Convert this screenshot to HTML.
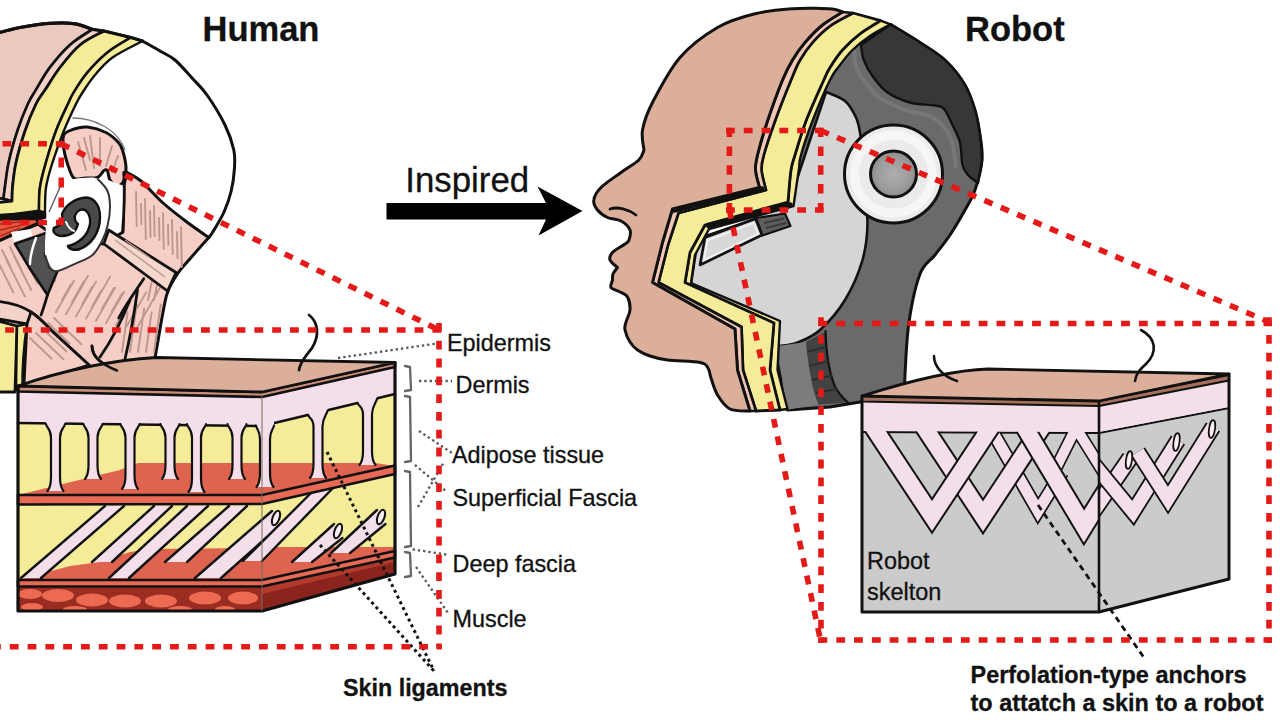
<!DOCTYPE html>
<html lang="en"><head><meta charset="utf-8"><title>Human skin ligaments inspired robot skin anchors</title>
<style>
html,body{margin:0;padding:0;background:#fff;}
body{width:1280px;height:720px;overflow:hidden;position:relative;font-family:"Liberation Sans",sans-serif;}
svg{position:absolute;left:0;top:0;display:block;}
text{font-family:"Liberation Sans",sans-serif;fill:#111;stroke:#111;stroke-width:0.3px;}
.b{font-weight:bold;}
.k{stroke:#111;stroke-linejoin:round;stroke-linecap:round;}
.red{fill:none;stroke:#e31a18;stroke-width:5.6;stroke-dasharray:8.8 9;}
.dot{fill:none;stroke:#555;stroke-width:2.3;stroke-dasharray:2.3 3;}
.bdot{fill:none;stroke:#111;stroke-width:3;stroke-dasharray:3 3.4;}
.br{fill:none;stroke:#666;stroke-width:2.3;stroke-linejoin:round;stroke-linecap:round;}
</style></head><body>
<svg width="1280" height="720" viewBox="0 0 1280 720">
<rect width="1280" height="720" fill="#fff"/>

<g id="human-head">
<path class="k" fill="none" stroke-width="3" d="M142.5,41 C145.4,42.7 154.6,47.8 160,51 C165.4,54.2 169.7,55.5 175,60 C180.3,64.5 186.7,72.2 192,78 C197.3,83.8 201.5,87.2 207,95 C212.5,102.8 220.5,115.8 225,125 C229.5,134.2 232.2,142.7 233.8,150 C235.3,157.3 234.8,161.9 234.4,168.8 C234,175.6 233,183.7 231.2,191 C229.5,198.3 226.9,205.6 223.8,212.5 C220.6,219.4 215,228.3 212.5,232.5 C210,236.7 209.4,236.7 208.8,237.5"/>
<path class="k" fill="#ecc9bf" stroke-width="3" d="M-6,34 C-1.7,32.9 10.7,29.3 20,27.5 C29.3,25.7 40.8,23.9 50,23.3 C59.2,22.7 67.9,22.7 75,23.8 C82.1,24.8 89.6,28.5 92.5,29.4  C88.8,32 77.1,38.6 70,45 C62.9,51.4 55.7,60 50,67.5 C44.3,75 39.7,83.9 36,90 C32.3,96.1 31.1,97.2 28,104 C24.9,110.8 20.7,121.2 17.5,131 C14.3,140.8 10.8,153.1 8.8,162.5 C6.7,171.9 5.9,181.4 5,187.5 C4.1,193.6 3.8,197.1 3.5,199 L-6,198 Z"/>
<path class="k" fill="#f3d2c8" stroke-width="2.4" d="M92.5,29.4 C88.8,32 77.1,38.6 70,45 C62.9,51.4 55.7,60 50,67.5 C44.3,75 39.7,83.9 36,90 C32.3,96.1 31.1,97.2 28,104 C24.9,110.8 20.7,121.2 17.5,131 C14.3,140.8 10.8,153.1 8.8,162.5 C6.7,171.9 5.9,181.4 5,187.5 C4.1,193.6 3.8,197.1 3.5,199 L12,201 C12.1,198.8 11.8,193.9 12.5,187.5 C13.2,181.1 13.9,171.9 16,162.5 C18.1,153.1 21.7,140.8 25,131 C28.3,121.2 32.7,110.8 36,104 C39.3,97.2 41,96.1 45,90 C49,83.9 54.2,75 60,67.5 C65.8,60 72.7,51.1 80,45 C87.3,38.9 100,33.3 104,31 Z"/>
<path class="k" fill="#f3d2c8" stroke-width="2.4" d="M-6,198 L3.5,199 L12,201 L-6,203 Z"/>
<path class="k" fill="#f4ec99" stroke-width="2.8" d="M104,31 C100,33.3 87.3,38.9 80,45 C72.7,51.1 65.8,60 60,67.5 C54.2,75 49,83.9 45,90 C41,96.1 39.3,97.2 36,104 C32.7,110.8 28.3,121.2 25,131 C21.7,140.8 18.1,153.1 16,162.5 C13.9,171.9 13.2,181.1 12.5,187.5 C11.8,193.9 12.1,198.8 12,201 L-6,203 L-6,217 L39,211  C39.2,207.1 38.8,195.6 40,187.5 C41.2,179.4 43.3,171.9 46,162.5 C48.7,153.1 52.3,140.8 56,131 C59.7,121.2 65,110.4 68,104 C71,97.6 70.5,97.8 73.8,92.5 C77,87.2 81.9,79.2 87.5,72.5 C93.1,65.8 100.2,58.3 107.5,52.5 C114.8,46.7 127.1,40 131,37.5 Z"/>
<path class="k" fill="#f4ec99" stroke-width="2.4" d="M131,37.5 C127.1,40 114.8,46.7 107.5,52.5 C100.2,58.3 93.1,65.8 87.5,72.5 C81.9,79.2 77,87.2 73.8,92.5 C70.5,97.8 71,97.6 68,104 C65,110.4 59.7,121.2 56,131 C52.3,140.8 48.7,153.1 46,162.5 C43.3,171.9 41.2,179.4 40,187.5 C38.8,195.6 39.2,207.1 39,211 L45,212.5 C45.2,208.3 44.8,195.8 46,187.5 C47.2,179.2 49.5,171.9 52.5,162.5 C55.5,153.1 59.8,140.8 63.8,131 C67.7,121.2 72.9,110.4 76,104 C79.1,97.6 79.3,97.3 82.5,92.5 C85.7,87.7 90,80.8 95,75 C100,69.2 104.6,63.2 112.5,57.5 C120.4,51.8 137.5,43.8 142.5,41 Z"/>
<path class="k" fill="none" stroke-width="3.2" d="M-6,34 C-1.7,32.9 10.7,29.3 20,27.5 C29.3,25.7 40.8,23.9 50,23.3 C59.2,22.7 67.9,22.7 75,23.8 C82.1,24.8 89.6,28.5 92.5,29.4 L104,31 L131,37.5 L142.5,41"/>
<path fill="#111" d="M-6,214 L46,211 L48,218 L38,221 L-6,222 Z"/>
<path class="k" fill="#e85a40" stroke-width="2" d="M-6,220 L36,219 L38,223 C25,228 10,235 -6,243 Z"/>
<path fill="none" stroke="#a8281a" stroke-width="1.6" d="M0,224 L30,221 M0,230 L26,224 M0,236 L20,228"/>
<path class="k" fill="#f7cec6" stroke-width="3" d="M127,172.5 C129.3,173.9 135.1,176 141,181 C146.9,186 154.8,195.6 162.5,202.5 C170.2,209.4 179.8,216.7 187.5,222.5 C195.2,228.3 205.2,235 208.8,237.5  C205.6,241 195.2,252.7 190,258.8 C184.8,264.8 181.2,268.1 177.5,273.8 C173.8,279.4 170,285.6 167.5,292.5 C165,299.4 163.9,307.9 162.5,315 C161.1,322.1 160.2,327.8 159,335 C157.8,342.2 155.7,354.2 155,358 L100,375 L24,392 L22,330 L-6,318 L-6,243 C10,236 25,229 38,224 L60,240 L104,244 L123,232 L124,185 Z"/>
<path class="k" fill="#f3d2c8" stroke-width="2.8" d="M-6,301 C10,302 22,306 31,312 C40,318 46,325 51.5,330.6 L89,365 L40,380 L24,385 L27,324 L-6,318 Z"/>
<path class="k" fill="#f7cec6" stroke-width="2.8" d="M31,312 C40,318 46,325 51.5,330.6 L89,365 L24,385 L27,324 Z"/>
<path fill="none" stroke="#bb978d" stroke-width="1.9" stroke-linecap="round" d="M136,192 L136.7,226 M145,199 L145.8,239 M154,206 L154.6,236 M163,213 L163.7,249 M172,220 L172.7,254 M181,227 L181.8,267 M141,204 L141.4,224 M150,211 L150.5,237 M159,218 L159.4,240 M168,225 L168.4,245 M177,232 L177.5,258 M56,312 L74,280.7 M66,314.2 L88,275.9 M76,316.4 L96,281.6 M86,318.6 L110,276.8 M96,320.8 L115,287.7 M106,323 L124,291.7 M116,325.2 L138,286.9 M126,327.4 L146,292.6 M136,329.6 L160,287.8 M62,300 L71,284.3 M72,302.2 L84,281.3 M82,304.4 L92,287 M92,306.6 L101,290.9 M102,308.8 L114,287.9 M112,311 L122,293.6 M122,313.2 L131,297.5 M-2,262 L13.3,292.3 M6,259 L24.9,296.4 M14,256 L31.1,289.8 M22,253 L37.3,283.3 M30,250 L48.9,287.4 M38,247 L55.1,280.8 M2,250 L10.1,266 M10,247 L20.8,268.4 M18,244 L26.1,260 M26,241 L36.8,262.4 M34,238 L42.1,254 M30,338 L51.6,358.7 M36,333 L63.4,359.2 M42,328 L66.5,351.5 M48,323 L69.6,343.7 M54,318 L81.4,344.2 M122,352 L127.6,312.4 M130,352 L136.7,304.5 M138,352 L144.2,308.4 M146,352 L151.6,312.4 M154,352 L160.7,304.5 M148,300 L152.4,278.4 M154,300 L157.6,282.4"/>
<path class="k" fill="#f7cec6" stroke-width="3" d="M63.8,135 C65.4,131.5 70,130.3 74,129 C78,127.7 82.2,126.4 87.5,127 C92.8,127.6 100.9,130 106,132.5 C111.1,135 115.2,139.1 118,142 C120.8,144.9 121.2,145.8 122.5,150 C123.8,154.2 125.8,162.5 126,167.5 C126.2,172.5 125.4,176.9 124,180 C122.6,183.1 119.8,186 117.5,186 C115.2,186 111.7,182.5 110,180 C108.3,177.5 108.5,172.6 107.5,171 C106.5,169.4 105.7,169.5 104,170.6 C102.3,171.7 100.5,176.3 97.5,177.5 C94.5,178.7 89.8,177.8 86,178 C82.2,178.2 77.7,179.9 75,178.8 C72.3,177.6 71.8,175.8 70,171 C68.2,166.2 65,156 64,150 C63,144 62.1,138.5 63.8,135 Z"/>
<path fill="none" stroke="#bb978d" stroke-width="1.9" stroke-linecap="round" d="M78,142 L86,170 M90,136 L94,168 M100,138 L100,166 M112,146 L106,166 M118,156 L112,172 M84,138 L90,160"/>
<path fill="none" stroke="#777" stroke-width="1.3" d="M72.5,118 C95,118 118,130 125,150"/>
<path class="k" fill="#515151" stroke-width="2.6" d="M15,243.75 L47.5,232.5 L45,255 L50,267.5 L57.5,271 L47.5,295 L30,268.75 Z"/>
<path fill="none" stroke="#fff" stroke-width="2.4" stroke-linecap="round" d="M36,238 C33,246 30,256 30,264"/>
<path fill="#fff" d="M11,232 L31,229 L32,236 L14,242 Z"/>
<path fill="#fff" d="M50,182.5 C51.8,180.2 55.1,181.4 58,181 C60.9,180.6 63.5,180.5 67.5,180 C71.5,179.5 77,178.2 82,178 C87,177.8 93.2,176.6 97.5,178.8 C101.8,180.9 105.4,186.2 107.5,191 C109.6,195.8 110,201.7 110,207.5 C110,213.3 108.8,220.6 107.5,226 C106.2,231.4 105,235.2 102.5,240 C100,244.8 97.1,251 92.5,255 C87.9,259 80.8,261.1 75,263.8 C69.2,266.4 61.7,270.4 57.5,271 C53.3,271.6 52.1,270.2 50,267.5 C47.9,264.8 45.7,262.1 45,255 C44.3,247.9 45.6,235 46,225 C46.4,215 46.8,202.1 47.5,195 C48.2,187.9 48.2,184.8 50,182.5 Z"/>
<path fill="#fff" d="M108,180 L124,186 L123,231 L109,229 Z"/>
<path fill="none" stroke="#333" stroke-width="2" d="M97.5,178.8 C99.2,180.8 105.4,186.2 107.5,191 C109.6,195.8 110,201.7 110,207.5 C110,213.3 108.8,220.6 107.5,226 C106.2,231.4 105,235.2 102.5,240 C100,244.8 97.1,251 92.5,255 C87.9,259 80.8,261.1 75,263.8 C69.2,266.4 61.7,270.4 57.5,271 C53.3,271.6 52.1,270.2 50,267.5 C47.9,264.8 45.8,257.1 45,255"/>
<path fill="none" stroke="#555" stroke-width="1.3" d="M61,185 L49,212"/>
<path class="k" fill="none" stroke-width="2.8" d="M123.75,172.5 C125,195 124,215 122.5,232.5"/>
<path class="k" fill="#4a4a4a" stroke-width="2.4" d="M62,214 C66,204 76,198 86,197.5 C95,198 100,206 100,217 C100,232 92,244 80,249 C74,251 69,249 68,246 C78,244 88,236 90,224 C91,214 86,208 80,210 C74,213 73,220 78,224 C76,232 70,236 62,236 C56,236 52,232 54,228 C60,226 64,222 62,214 Z"/>
<path fill="none" stroke="#fff" stroke-width="2" stroke-linecap="round" d="M66,222 C68,227 71,230 74,231"/>
<path class="k" fill="#f6d7cd" stroke-width="2.8" d="M108.75,230 L176,272.5 L167.5,291 L103.75,243.75 Z"/>
<path fill="none" stroke="#bb978d" stroke-width="1.4" d="M115,240 L165,277 M125,240 L150,258"/>
<path class="k" fill="#f4ec99" stroke-width="2.8" d="M-6,320 L17,326 L15,392 L-6,392 Z"/>
<path class="k" fill="#f4ec99" stroke-width="2.4" d="M17,326 L27,324 C24,345 22,365 22.5,388 L16,390 Z"/>
<path class="k" fill="none" stroke-width="2.8" d="M47.5,295 C45,303 43,310 41,315 M143.75,278.75 C135,292 126,304 118.75,318 M137.5,290 C134,315 130,338 125,359 M130,300 C122,320 112,340 100,357 M92,346 C92,356 100,364 117,370.5"/>
</g>
<g id="human-block">
<path fill="#f4ec99" d="M262,395 L395,364 L395,574 L262,611 Z"/>
<path fill="#f4ec99" d="M18,388 L262,395 L262,611 L18,611 Z"/>
<path fill="#de6450" d="M18,495 L120,470 L138,463 L262,463 L262,496 Z"/>
<path fill="#de6450" d="M262,463 L375,463 L395,466 L262,496 Z"/>
<path fill="#de6450" d="M18,580 L40,574 L70,566 L100,562 L130,552 L150,549 L262,548 L262,581 Z"/>
<path fill="#de6450" d="M262,547 L395,547 L395,552 L262,580 Z"/>
<path fill="#9a2c22" d="M18,587 L262,587 L262,611 L18,611 Z"/>
<ellipse cx="30" cy="594" rx="12" ry="5" fill="#ec6a52"/>
<ellipse cx="58" cy="595.5" rx="16" ry="6.5" fill="#ec6a52"/>
<ellipse cx="92" cy="600" rx="16" ry="6.5" fill="#ec6a52"/>
<ellipse cx="125" cy="601" rx="16" ry="6.5" fill="#ec6a52"/>
<ellipse cx="161" cy="601" rx="16" ry="6.5" fill="#ec6a52"/>
<ellipse cx="205" cy="598" rx="16" ry="6.5" fill="#ec6a52"/>
<ellipse cx="243" cy="598" rx="15" ry="6.5" fill="#ec6a52"/>
<ellipse cx="32" cy="607" rx="11" ry="4" fill="#ec6a52"/>
<ellipse cx="75" cy="609" rx="12" ry="3" fill="#ec6a52"/>
<ellipse cx="180" cy="609" rx="12" ry="3" fill="#ec6a52"/>
<ellipse cx="225" cy="609" rx="10" ry="3" fill="#ec6a52"/>
<path fill="#8a241c" d="M262,585 L395,557 L395,574 L262,611 Z"/>
<path fill="#b23a2c" d="M262,585 L395,557 L395,562 L262,594 Z"/>
<path fill="#f4deea" d="M105,506 L124,506 L41,578 L21,578 Z"/><path class="k" fill="none" stroke-width="2.4" d="M105,506 L21,578 M124,506 L41,578"/>
<path fill="#f4deea" d="M154,506 L172,506 L112,562 L92,562 Z"/><path class="k" fill="none" stroke-width="2.4" d="M154,506 L92,562 M172,506 L112,562"/>
<path fill="#f4deea" d="M187,506 L208,506 L129,578 L109,578 Z"/><path class="k" fill="none" stroke-width="2.4" d="M187,506 L109,578 M208,506 L129,578"/>
<path fill="#f4deea" d="M229,506 L247,506 L187,562 L165,562 Z"/><path class="k" fill="none" stroke-width="2.4" d="M229,506 L165,562 M247,506 L187,562"/>
<path fill="#f4deea" d="M272,511 L280.5,525 L221,578 L195,578 Z"/><path class="k" fill="none" stroke-width="2.4" d="M272,511 L195,578 M280.5,525 L221,578"/>
<ellipse class="k" cx="276" cy="518" rx="3.4" ry="7.6" fill="#fbeef3" stroke-width="2" transform="rotate(20 276 518)"/>
<path fill="#f4deea" d="M312,492 L334,487 L262,561 L243,561 Z"/><path class="k" fill="none" stroke-width="2.4" d="M312,492 L243,561 M334,487 L262,561"/>
<path fill="#f4deea" d="M334,524 L342.5,538 L312,562 L292,562 Z"/><path class="k" fill="none" stroke-width="2.4" d="M334,524 L292,562 M342.5,538 L312,562"/>
<ellipse class="k" cx="338" cy="531" rx="3.4" ry="7.6" fill="#fbeef3" stroke-width="2" transform="rotate(20 338 531)"/>
<path fill="#f4deea" d="M377,510 L385.5,524 L350,553 L331,553 Z"/><path class="k" fill="none" stroke-width="2.4" d="M377,510 L331,553 M385.5,524 L350,553"/>
<ellipse class="k" cx="381" cy="517" rx="3.4" ry="7.6" fill="#fbeef3" stroke-width="2" transform="rotate(20 381 517)"/>
<path class="k" fill="#e86a54" stroke-width="2.6" d="M18,495 L262,495 L395,465.5 L395,474 L262,504 L18,504.5 Z"/>
<path class="k" fill="#e86a54" stroke-width="2.6" d="M18,580 L262,580 L395,551 L395,557.5 L262,586.5 L18,586.5 Z"/>
<path fill="#f4deea" d="M18,391 L262,395 L395,366 L395,394 L262,426 L18,423 Z"/>
<path class="k" fill="none" stroke-width="2.6" d="M18,423 L262,426 L395,394"/>
<path fill="#f4deea" d="M46,420 L46,422.5 C46.5,427.5 50.8,428.5 51,437.5 L51,477 C51,484 50,488 47.5,491 L63.5,491 C61,488 60,484 60,477 L60,437.5 C60.2,428.5 64.5,427.5 65,422.5 L65,420 Z"/><path class="k" fill="none" stroke-width="2.2" d="M46,424.1 C46.5,427.5 50.8,428.5 51,437.5 L51,477 C51,484 50,488 47.5,491 M65,424.1 C64.5,427.5 60.2,428.5 60,437.5 L60,477 C60,484 61,488 63.5,491"/>
<path fill="#f4deea" d="M83.5,420 L83.5,422.5 C84,427.5 88.3,428.5 88.5,437.5 L88.5,465 C88.5,472 87.5,476 85,479 L101,479 C98.5,476 97.5,472 97.5,465 L97.5,437.5 C97.7,428.5 102,427.5 102.5,422.5 L102.5,420 Z"/><path class="k" fill="none" stroke-width="2.2" d="M83.5,424.1 C84,427.5 88.3,428.5 88.5,437.5 L88.5,465 C88.5,472 87.5,476 85,479 M102.5,424.1 C102,427.5 97.7,428.5 97.5,437.5 L97.5,465 C97.5,472 98.5,476 101,479"/>
<path fill="#f4deea" d="M120.5,420 L120.5,422.5 C121,427.5 125.3,428.5 125.5,437.5 L125.5,475 C125.5,482 124.5,486 122,489 L138,489 C135.5,486 134.5,482 134.5,475 L134.5,437.5 C134.7,428.5 139,427.5 139.5,422.5 L139.5,420 Z"/><path class="k" fill="none" stroke-width="2.2" d="M120.5,424.1 C121,427.5 125.3,428.5 125.5,437.5 L125.5,475 C125.5,482 124.5,486 122,489 M139.5,424.1 C139,427.5 134.7,428.5 134.5,437.5 L134.5,475 C134.5,482 135.5,486 138,489"/>
<path fill="#f4deea" d="M160.5,420 L160.5,422.5 C161,427.5 165.3,428.5 165.5,437.5 L165.5,465 C165.5,472 164.5,476 162,479 L178,479 C175.5,476 174.5,472 174.5,465 L174.5,437.5 C174.7,428.5 179,427.5 179.5,422.5 L179.5,420 Z"/><path class="k" fill="none" stroke-width="2.2" d="M160.5,424.1 C161,427.5 165.3,428.5 165.5,437.5 L165.5,465 C165.5,472 164.5,476 162,479 M179.5,424.1 C179,427.5 174.7,428.5 174.5,437.5 L174.5,465 C174.5,472 175.5,476 178,479"/>
<path fill="#f4deea" d="M187,420 L187,422.5 C187.5,427.5 191.8,428.5 192,437.5 L192,478 C192,485 191,489 188.5,492 L204.5,492 C202,489 201,485 201,478 L201,437.5 C201.2,428.5 205.5,427.5 206,422.5 L206,420 Z"/><path class="k" fill="none" stroke-width="2.2" d="M187,424.1 C187.5,427.5 191.8,428.5 192,437.5 L192,478 C192,485 191,489 188.5,492 M206,424.1 C205.5,427.5 201.2,428.5 201,437.5 L201,478 C201,485 202,489 204.5,492"/>
<path fill="#f4deea" d="M227.5,420 L227.5,422.5 C228,427.5 232.3,428.5 232.5,437.5 L232.5,465 C232.5,472 231.5,476 229,479 L245,479 C242.5,476 241.5,472 241.5,465 L241.5,437.5 C241.7,428.5 246,427.5 246.5,422.5 L246.5,420 Z"/><path class="k" fill="none" stroke-width="2.2" d="M227.5,424.1 C228,427.5 232.3,428.5 232.5,437.5 L232.5,465 C232.5,472 231.5,476 229,479 M246.5,424.1 C246,427.5 241.7,428.5 241.5,437.5 L241.5,465 C241.5,472 242.5,476 245,479"/>
<path fill="#f4deea" d="M256,421.5 L256,424 C256.5,429 259.8,430 260,439 L260,473 C260,480 259,484 256.5,487 L273.5,487 C271,484 270,480 270,473 L270,439 C270.2,430 273.5,429 274,424 L274,421.5 Z"/><path class="k" fill="none" stroke-width="2.2" d="M256,425.6 C256.5,429 259.8,430 260,439 L260,473 C260,480 259,484 256.5,487 M274,425.6 C273.5,429 270.2,430 270,439 L270,473 C270,480 271,484 273.5,487"/>
<path fill="#f4deea" d="M308.5,411.3 L308.5,413.8 C309,418.8 313.3,417.5 313.5,426.5 L313.5,464 C313.5,471 312.5,475 310,478 L326,478 C323.5,475 322.5,471 322.5,464 L322.5,426.5 C322.7,417.5 327,414.2 327.5,409.2 L327.5,406.7 Z"/><path class="k" fill="none" stroke-width="2.2" d="M308.5,415.4 C309,418.8 313.3,417.5 313.5,426.5 L313.5,464 C313.5,471 312.5,475 310,478 M327.5,410.8 C327,414.2 322.7,417.5 322.5,426.5 L322.5,464 C322.5,471 323.5,475 326,478"/>
<path fill="#f4deea" d="M358,399.3 L358,401.8 C358.5,406.8 362.8,405.5 363,414.5 L363,451 C363,458 362,462 359.5,465 L375.5,465 C373,462 372,458 372,451 L372,414.5 C372.2,405.5 376.5,402.2 377,397.2 L377,394.7 Z"/><path class="k" fill="none" stroke-width="2.2" d="M358,403.4 C358.5,406.8 362.8,405.5 363,414.5 L363,451 C363,458 362,462 359.5,465 M377,398.8 C376.5,402.2 372.2,405.5 372,414.5 L372,451 C372,458 373,462 375.5,465"/>
<path class="k" fill="#c98e78" stroke-width="2.6" d="M18,386 L262,392 L395,362.5 L395,367 L262,397 L18,391.5 Z"/>
<path class="k" fill="#dcaf9b" stroke-width="2.8" d="M18,386 C50,375 100,361 157,357.5 L395,362.5 L262,392 Z"/>
<path class="k" fill="none" stroke-width="3.2" d="M18,386 L18,611 L262,611 L395,574 L395,362.5"/>
<path fill="none" stroke="#7a6a60" stroke-width="1" d="M262,396 L262,611"/>
<path class="k" fill="none" stroke-width="2.8" d="M309,315 C318,322 320,335 312,348 C306,356 300,362 299,370"/>
<path class="k" fill="none" stroke-width="2.6" d="M92,346 C92,356 100,364 117,370.5"/>
</g>
<g id="human-labels">
<path class="dot" d="M338,358 L440,343"/>
<path class="br" d="M405,366 L410,367 L411,390 L405,391"/>
<path class="dot" d="M419,381 L452,381"/>
<path class="br" d="M405,396 L410,397 L411,461 L405,462"/>
<path class="dot" d="M419,431 L452,453"/>
<path class="dot" d="M415,465 L447,492"/>
<path class="dot" d="M418,507 L444,462"/>
<path class="br" d="M405,471 L410,472 L411,546 L405,547"/>
<path class="dot" d="M412.6,549.4 L447,554.6"/>
<path class="br" d="M405,552 L410,553 L411,576 L405,577"/>
<path class="dot" d="M416,567 L448,613"/>
<path class="bdot" d="M327,452 L434,671"/>
<path class="bdot" d="M320,545 L434,671"/>
<text x="447" y="351" font-size="23.4">Epidermis</text>
<text x="455.5" y="392.5" font-size="23.4">Dermis</text>
<text x="452" y="462.5" font-size="23.4">Adipose tissue</text>
<text x="452.5" y="505.5" font-size="23.4">Superficial Fascia</text>
<text x="452.5" y="572" font-size="23.4">Deep fascia</text>
<text x="452.5" y="627" font-size="23.4">Muscle</text>
<text class="b" x="343" y="695.8" font-size="23.3">Skin ligaments</text>
<text class="b" x="202.5" y="41" font-size="34.5">Human</text>
<text class="b" x="965" y="41" font-size="34.5">Robot</text>
<text x="405.3" y="191.5" font-size="34.8">Inspired</text>
<path fill="#000" d="M386.5,203 L546,203 L537.5,186.5 L582.5,211 L538.5,235.5 L546,219.5 L386.5,219.5 Z"/>
</g>
<g id="robot-head">
<path class="k" fill="#696a69" stroke-width="3" d="M890.6,24.4 C895.5,27.4 910.8,36.4 920,42.5 C929.2,48.6 938.5,53.9 946,61 C953.5,68.1 960.2,76.8 965,85 C969.8,93.2 972.5,101.7 975,110 C977.5,118.3 978.8,126.7 980,135 C981.2,143.3 982.8,150.8 982,160 C981.2,169.2 977.8,181.7 975,190 C972.2,198.3 969.2,202.5 965,210 C960.8,217.5 955,227.5 950,235 C945,242.5 940,248.5 935,255 C930,261.5 924.3,262.8 920,274 C915.7,285.2 911.5,305.2 909,322 C906.5,338.8 905.7,362 905,375 C904.3,388 905,395.8 905,400 L860,402 L830,407 L787.5,410 L770,330 L800,80 Z"/>
<path class="k" fill="#363837" stroke-width="2.4" d="M861,45 C861.5,47.5 861.8,54.8 863.8,60 C865.7,65.2 868.5,70.6 872.5,76 C876.5,81.4 881.2,88.1 887.5,92.5 C893.8,96.9 902.1,100.3 910,102.5 C917.9,104.7 929.3,104.4 935,105.5 C940.7,106.6 941.1,105.8 944,109 C946.9,112.2 949.8,119.4 952.5,125 C955.2,130.6 958.3,135.8 960,142.5 C961.7,149.2 961.2,159.6 962.5,165 C963.8,170.4 965.4,172 968,175 C970.6,178 976.3,181.7 978,183 L982,160  C981.7,155.8 981.2,143.3 980,135 C978.8,126.7 977.5,118.3 975,110 C972.5,101.7 969.8,93.2 965,85 C960.2,76.8 953.5,68.1 946,61 C938.5,53.9 929.2,48.6 920,42.5 C910.8,36.4 895.5,27.4 890.6,24.4 Z"/>
<path fill="none" stroke="#777" stroke-width="4" d="M854,50 C854.3,52.7 854.7,61.3 856,66 C857.3,70.7 858,72.7 862,78 C866,83.3 872.7,92.7 880,98 C887.3,103.3 897.7,107 906,110 C914.3,113 923.3,112.7 930,116 C936.7,119.3 942.2,125 946,130 C949.8,135 951.3,139.7 953,146 C954.7,152.3 955.5,164.3 956,168"/>
<path class="k" fill="#d5d5d5" stroke-width="2.6" d="M826,92 C829.2,93.5 840,96.8 845,101 C850,105.2 853.5,112.2 856,117.5 C858.5,122.8 859,127.1 860,132.5 C861,137.9 861.5,140.4 862,150 C862.5,159.6 862.1,177.9 863,190 C863.9,202.1 867.6,210.8 867.5,222.5 C867.4,234.2 866.2,247.1 862.5,260 C858.8,272.9 852.1,288.3 845,300 C837.9,311.7 827.9,322.9 820,330 C812.1,337.1 804.2,339.8 797.5,342.5 C790.8,345.2 782.9,345.4 780,346 L690,290 L700,225 L790,200 Z"/>
<path fill="#7b7c7b" d="M778,346 L806,342 C809,372 813,392 818.6,404.5 L786,410 Z"/>
<path fill="#414342" d="M806,342 L825.5,332 C826,350 829,372 835,386.7 C839,394 844,399 848,402.5 L818.6,404.5 C813,392 809,372 806,342 Z"/>
<path class="k" fill="none" stroke-width="2.2" d="M825.5,331 C826,350 829,372 835,386.7 C839,394 844,399 848,402.5"/>
<path fill="none" stroke="#2c2d2c" stroke-width="2" d="M807,352 L826,347 M809,366 L828,361 M812,380 L832,375.5 M816,393 L838,389"/>
<path class="k" fill="#fff" stroke-width="2.2" d="M705,236 L711,225 L757,212.5 L756,218.5 Z"/>
<path class="k" fill="#d8d8d8" stroke-width="2.6" d="M705,237.5 L755.5,218.75 L762,235 L700,265 Z"/>
<path fill="none" stroke="#f4f4f4" stroke-width="1.6" d="M707.5,240.5 L753.5,223 L758,234 L704,260 Z"/>
<path class="k" fill="#5e5e5e" stroke-width="2.2" d="M756,218 L785,213.5 L790.5,226 L762.5,235.5 Z"/>
<path fill="none" stroke="#3a3a3a" stroke-width="2" d="M764,223 L784,218.5 M766,228 L786,223"/>
<circle class="k" cx="893.5" cy="174" r="49" fill="#ebebeb" stroke-width="3"/>
<circle cx="893.5" cy="174" r="39" fill="none" stroke="#f6f6f6" stroke-width="9"/>
<defs><radialGradient id="eg" cx="0.5" cy="0.5" r="0.5"><stop offset="0" stop-color="#aeaeae"/><stop offset="0.7" stop-color="#9c9c9c"/><stop offset="1" stop-color="#8c8c8c"/></radialGradient></defs>
<circle class="k" cx="893.5" cy="174" r="23" fill="url(#eg)" stroke-width="3"/>
<path class="k" fill="#f4ec99" stroke-width="2.4" d="M880.6,20.6 C877.2,22.8 866.4,28.9 860,33.8 C853.6,38.6 847.5,44.4 842.5,50 C837.5,55.6 833.1,62.5 830,67.5 C826.9,72.5 827.8,71.1 823.8,80 C819.8,88.9 810.8,108.5 806,121 C801.2,133.5 797.5,146.8 795,155 C792.5,163.2 792.2,162.2 791,170 C789.8,177.8 788.5,196.7 788,202 L705,225 L690,252.5 C689.2,257.5 685.8,277.5 685,282.5 L774,323 L770,370 C771.7,376.7 778.3,403.3 780,410 L787.5,409 C785.8,402.5 779.2,376.5 777.5,370 L780,321 L691,283 C691.7,278.3 694.3,259.7 695,255 L709,229 L793.5,206 C794.4,200 797.5,178.5 798.8,170 C800,161.5 798.7,163.2 801,155 C803.3,146.8 807.7,133.5 812.5,121 C817.3,108.5 825.4,89.3 830,80 C834.6,70.7 836.2,70 840,65 C843.8,60 847.5,54.8 852.5,50 C857.5,45.2 863.6,40.3 870,36 C876.4,31.7 887.2,26.3 890.6,24.4 Z"/>
<path class="k" fill="#f4ec99" stroke-width="2.8" d="M853,13 C849.2,15.2 836.8,21.1 830,26 C823.2,30.9 817.5,36.8 812.5,42.5 C807.5,48.2 803.6,53.8 800,60 C796.4,66.2 795.2,69.8 791,80 C786.8,90.2 779.5,108.5 775,121 C770.5,133.5 766,146.8 763.8,155 C761.5,163.2 761.1,164.2 761.5,170 C761.9,175.8 765.2,186.7 766,190 L678.5,213 L668,245 C666.4,251.2 660.1,276.2 658.5,282.5 L741.5,327 L743,370 C745.2,376.8 753.8,404.2 756,411 L780,410 C778.3,403.3 771.7,376.7 770,370 L774,323 L685,282.5 C685.8,277.5 689.2,257.5 690,252.5 L705,225 L788,202 C788.5,196.7 789.8,177.8 791,170 C792.2,162.2 792.5,163.2 795,155 C797.5,146.8 801.2,133.5 806,121 C810.8,108.5 819.8,88.9 823.8,80 C827.8,71.1 826.9,72.5 830,67.5 C833.1,62.5 837.5,55.6 842.5,50 C847.5,44.4 853.6,38.6 860,33.8 C866.4,28.9 877.2,22.8 880.6,20.6 Z"/>
<path class="k" fill="#f0c6b6" stroke-width="2.6" d="M842.5,12 C839.2,14.2 828.8,19.9 822.5,25 C816.2,30.1 810,36.7 805,42.5 C800,48.3 796.2,53.8 792.5,60 C788.8,66.2 786.7,69.8 782.5,80 C778.3,90.2 771.7,108.5 767.5,121 C763.3,133.5 759.5,146.8 757.5,155 C755.5,163.2 755.2,164.6 755.5,170 C755.8,175.4 758.8,184.6 759.5,187.5 L672.5,209 L662.5,242.5 C660.8,249.2 654.2,275.8 652.5,282.5 L735,329 L737.5,370 C739.6,376.8 747.9,404.2 750,411 L756,411 C753.8,404.2 745.2,376.8 743,370 L741.5,327 L658.5,282.5 C660.1,276.2 666.4,251.2 668,245 L678.5,213 L766,190 C765.2,186.7 761.9,175.8 761.5,170 C761.1,164.2 761.5,163.2 763.8,155 C766,146.8 770.5,133.5 775,121 C779.5,108.5 786.8,90.2 791,80 C795.2,69.8 796.4,66.2 800,60 C803.6,53.8 807.5,48.2 812.5,42.5 C817.5,36.8 823.2,30.9 830,26 C836.8,21.1 849.2,15.2 853,13 Z"/>
<path class="k" fill="#dcaf9b" stroke-width="3" d="M842.5,12 C841.2,11.6 838.8,10 835,9.4 C831.2,8.8 827.1,8.5 820,8.4 C812.9,8.3 803.3,7.9 792.5,8.8 C781.7,9.6 767.5,10.6 755,13.8 C742.5,16.9 730,20.2 717.5,27.5 C705,34.8 690.8,45 680,57.5 C669.2,70 658.8,90.4 652.5,102.5 C646.2,114.6 643.9,122.1 642.5,130 C641.1,137.9 643.8,146.7 644,150 L644,150 C643.1,151.7 642.6,156.2 638.8,160 C634.9,163.8 627.3,167.9 621,172.5 C614.7,177.1 605.5,182.9 601,187.5 C596.5,192.1 594.3,196.2 593.8,200 C593.2,203.8 595.2,207.1 597.5,210 C599.8,212.9 603.6,215.7 607.5,217.5 C611.4,219.3 617.2,218.9 621,221 C624.8,223.1 628.7,226.8 630,230 C631.3,233.2 629.8,237.7 629,240 C628.2,242.3 627.8,241.9 625,244 C622.2,246.1 615,249.8 612.5,252.5 C610,255.2 609.2,257.5 610,260 C610.8,262.5 616.2,266.2 617.5,267.5 L617.5,267.5 C616.8,268.6 613.8,271.9 613,274 C612.2,276.1 612.8,277.8 612.5,280 C612.2,282.2 609.8,285.5 611,287.5 C612.2,289.5 617.2,290.4 620,292 C622.8,293.6 625.8,294 627.5,297 C629.2,300 630.2,305.8 630,310 C629.8,314.2 626.8,318.7 626,322 C625.2,325.3 624.3,326.7 625,330 C625.7,333.3 627.9,338.7 630,342 C632.1,345.3 634.2,347.7 637.5,350 C640.8,352.3 645,354.3 650,356 C655,357.7 659.2,358.9 667.5,360 C675.8,361.1 693.2,361.2 700,362.5 C706.8,363.8 706.2,365.4 708,368 C709.8,370.6 709.4,373.5 711,378 C712.6,382.5 714.3,389.8 717.5,395 C720.7,400.2 724.6,406.3 730,409 C735.4,411.7 746.7,410.7 750,411 L750,411 C747.9,404.2 739.6,376.8 737.5,370 L735,329 L652.5,282.5 C654.2,275.8 660.8,249.2 662.5,242.5 L672.5,209 L759.5,187.5 C758.8,184.6 755.8,175.4 755.5,170 C755.2,164.6 755.5,163.2 757.5,155 C759.5,146.8 763.3,133.5 767.5,121 C771.7,108.5 778.3,90.2 782.5,80 C786.7,69.8 788.8,66.2 792.5,60 C796.2,53.8 800,48.3 805,42.5 C810,36.7 816.2,30.1 822.5,25 C828.8,19.9 839.2,14.2 842.5,12 Z"/>
<path class="k" fill="none" stroke-width="2.8" d="M610,209 C618,206.5 628,209 636,215"/>
<path fill="none" stroke="#111" stroke-width="4.5" stroke-linecap="round" d="M674,210.5 L762,188.5"/>
<path fill="none" stroke="#111" stroke-width="5.5" stroke-linecap="round" d="M708.5,225.5 L790,205"/>
</g>
<g id="robot-block">
<path fill="#cbcbcb" d="M862,396 L1099,401 L1099,612 L862,612 Z"/>
<path fill="#cbcbcb" d="M1099,401 L1229,375 L1229,579 L1099,612 Z"/>
<defs><clipPath id="cf"><path d="M863,428 L1098,429 L1098,612 L863,612 Z"/></clipPath><clipPath id="cr"><path d="M1100,429 L1228,404 L1228,579 L1100,612 Z"/></clipPath></defs>
<path fill="none" stroke="#111" stroke-width="2.2" d="M862,432 L1099,433 L1229,408"/>
<path fill="none" stroke="#111" stroke-width="14.4" stroke-linejoin="miter" stroke-miterlimit="10" d="M972,396 L1038,511 L1062,472" clip-path="url(#cf)"/><path fill="none" stroke="#f4deea" stroke-width="11" stroke-linejoin="miter" stroke-miterlimit="10" d="M972,396 L1038,511 L1062,472" clip-path="url(#cf)"/>
<path fill="none" stroke="#111" stroke-width="13.2" stroke-linejoin="miter" stroke-miterlimit="10" d="M1052,476 L1076,428 L1112,486" clip-path="url(#cf)"/><path fill="none" stroke="#f4deea" stroke-width="10" stroke-linejoin="miter" stroke-miterlimit="10" d="M1052,476 L1076,428 L1112,486" clip-path="url(#cf)"/>
<path fill="none" stroke="#111" stroke-width="20.5" stroke-linejoin="miter" stroke-miterlimit="10" d="M903.7,396 L983,516.5 L1062.3,396" clip-path="url(#cf)"/><path fill="none" stroke="#f4deea" stroke-width="16.5" stroke-linejoin="miter" stroke-miterlimit="10" d="M903.7,396 L983,516.5 L1062.3,396" clip-path="url(#cf)"/>
<path fill="none" stroke="#111" stroke-width="20.5" stroke-linejoin="miter" stroke-miterlimit="10" d="M852.7,396 L932,516 L1011.3,396" clip-path="url(#cf)"/><path fill="none" stroke="#f4deea" stroke-width="16.5" stroke-linejoin="miter" stroke-miterlimit="10" d="M852.7,396 L932,516 L1011.3,396" clip-path="url(#cf)"/>
<path fill="none" stroke="#111" stroke-width="20.5" stroke-linejoin="miter" stroke-miterlimit="10" d="M1006,396 L1084,526.5 L1114,478" clip-path="url(#cf)"/><path fill="none" stroke="#f4deea" stroke-width="16.5" stroke-linejoin="miter" stroke-miterlimit="10" d="M1006,396 L1084,526.5 L1114,478" clip-path="url(#cf)"/>
<path fill="none" stroke="#111" stroke-width="17.6" stroke-linejoin="miter" stroke-miterlimit="10" d="M1088,519 L1130,458" clip-path="url(#cr)"/><path fill="none" stroke="#f4deea" stroke-width="14" stroke-linejoin="miter" stroke-miterlimit="10" d="M1088,519 L1130,458" clip-path="url(#cr)"/>
<path fill="none" stroke="#111" stroke-width="16.6" stroke-linejoin="miter" stroke-miterlimit="10" d="M1092,462 L1133,512 L1178,440" clip-path="url(#cr)"/><path fill="none" stroke="#f4deea" stroke-width="13" stroke-linejoin="miter" stroke-miterlimit="10" d="M1092,462 L1133,512 L1178,440" clip-path="url(#cr)"/>
<path fill="none" stroke="#111" stroke-width="16.6" stroke-linejoin="miter" stroke-miterlimit="10" d="M1138,452 L1168,499 L1213,427" clip-path="url(#cr)"/><path fill="none" stroke="#f4deea" stroke-width="13" stroke-linejoin="miter" stroke-miterlimit="10" d="M1138,452 L1168,499 L1213,427" clip-path="url(#cr)"/>
<ellipse class="k" cx="1129" cy="460" rx="3" ry="9" fill="#fbeef3" stroke-width="1.7" transform="rotate(8 1129 460)"/>
<ellipse class="k" cx="1176.5" cy="442" rx="3" ry="9" fill="#fbeef3" stroke-width="1.7" transform="rotate(8 1176.5 442)"/>
<ellipse class="k" cx="1212" cy="429" rx="3" ry="9" fill="#fbeef3" stroke-width="1.7" transform="rotate(8 1212 429)"/>
<path fill="#f4deea" d="M862,401 L1099,404 L1229,380 L1229,407 L1099,432 L862,431 Z"/>
<path class="k" fill="#a4705c" stroke-width="2" d="M862,396 L1099,401 L1229,375 L1229,380.5 L1099,406 L862,401.5 Z"/>
<path class="k" fill="#dcaf9b" stroke-width="2.8" d="M862,396 C900,384 950,370 988,369 L1229,374 L1099,401 Z"/>
<path class="k" fill="none" stroke-width="3" d="M862,396 L862,612 L1099,612 L1229,579 L1229,374"/>
<path class="k" fill="none" stroke-width="2.6" d="M1099,401 L1099,612"/>
<path class="k" fill="none" stroke-width="2.6" d="M934,356 C934,366 942,376 957,381"/>
<path class="k" fill="none" stroke-width="2.6" d="M1141,330 C1156,338 1158,352 1146,364 C1138,371 1136,375 1135,381"/>
<text x="867" y="569" font-size="23.45">Robot</text>
<text x="867" y="600" font-size="23.45">skelton</text>
<path fill="none" stroke="#111" stroke-width="2.8" stroke-dasharray="6 4.5" d="M1038,505 L1143.5,657"/>
<text class="b" x="970.5" y="682.5" font-size="23.45">Perfolation-type anchors</text>
<text class="b" x="970.5" y="711" font-size="23.45">to attatch a skin to a robot</text>
</g>
<g id="red">
<path class="red" d="M-15.3,143.75 H64"/>
<path class="red" d="M-15.3,222.5 H64"/>
<path class="red" style="stroke-dasharray:6.5 10 10 10 10 10 10 10 7.5 99" d="M61.25,141 V225"/>
<path class="red" d="M61.25,143.75 L439,330"/>
<path class="red" d="M-12.6,330 H441.5"/>
<path class="red" d="M439,323 V649"/>
<path class="red" d="M-8,646.7 H441.5"/>
<path class="red" d="M726,130.5 H823.5"/>
<path class="red" d="M726,210 H823.5"/>
<path class="red" style="stroke-dasharray:9.4 9.4" d="M729.4,127.7 V213"/>
<path class="red" style="stroke-dasharray:9.4 9.4" d="M820.7,127.7 V213"/>
<path class="red" d="M820.7,130.5 L1269,322"/>
<path class="red" d="M729.4,210 L820,638"/>
<path class="red" d="M818.5,323.5 H1272"/>
<path class="red" d="M818.5,640 H1272"/>
<path class="red" d="M821,317.2 V643"/>
<path class="red" d="M1269,317.2 V643"/>
</g>
</svg></body></html>
